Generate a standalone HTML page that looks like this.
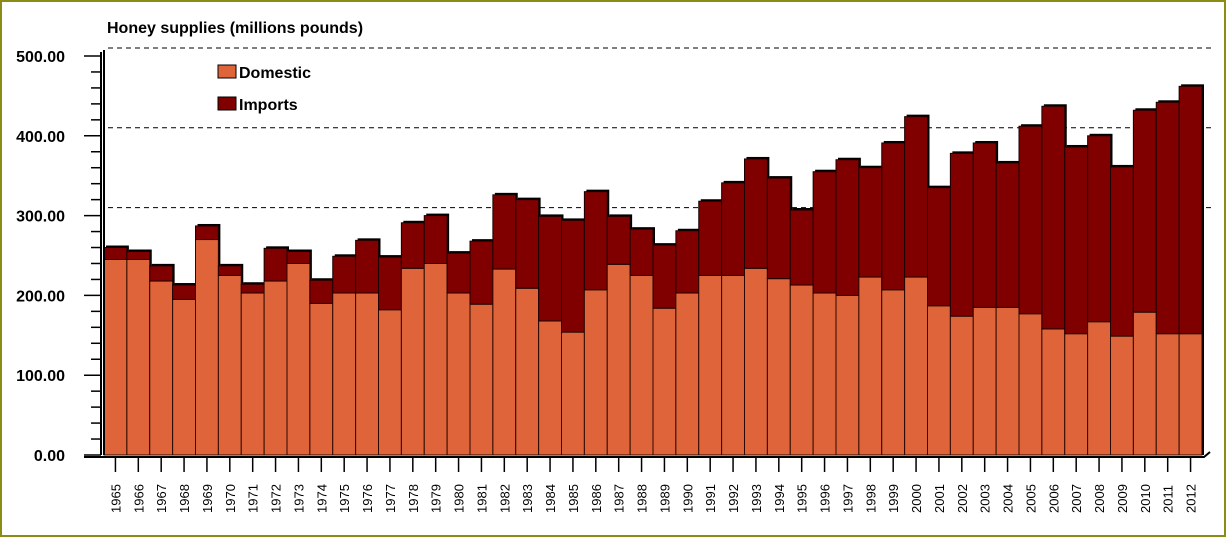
<!DOCTYPE html>
<html><head><meta charset="utf-8"><style>
html,body{margin:0;padding:0;background:#fff}
svg{display:block;font-family:"Liberation Sans",sans-serif}
</style></head><body>
<svg id="chart" width="1226" height="537" viewBox="0 0 1226 537">
<rect x="1" y="1" width="1224" height="535" fill="#fff" stroke="#8c8c14" stroke-width="2"/>
<text x="107" y="33" font-size="16" font-weight="bold" fill="#000">Honey supplies (millions pounds)</text>
<g id="grid"></g>
<g id="bars"></g>
<g id="axes"></g>
<g>
<rect x="218" y="65" width="18" height="13" fill="#e0643a" stroke="#000"/>
<text x="239" y="78" font-size="16" font-weight="bold">Domestic</text>
<rect x="218" y="97" width="18" height="13" fill="#800000" stroke="#000"/>
<text x="239" y="110" font-size="16" font-weight="bold">Imports</text>
</g>
</svg>
<script>
const years=[1965,1966,1967,1968,1969,1970,1971,1972,1973,1974,1975,1976,1977,1978,1979,1980,1981,1982,1983,1984,1985,1986,1987,1988,1989,1990,1991,1992,1993,1994,1995,1996,1997,1998,1999,2000,2001,2002,2003,2004,2005,2006,2007,2008,2009,2010,2011,2012];
const domestic=[245,245,218,195,270,225,203,218,240,190,203,203,182,234,240,203,189,233,209,168,154,207,239,225,184,203,225,225,234,221,213,203,200,223,207,223,187,174,185,185,177,158,152,167,149,179,152,152];
const imports=[15,10,19,18,17,12,11,41,15,29,46,66,66,57,60,50,79,93,111,131,140,123,60,58,79,78,93,116,137,126,94,152,170,137,184,201,148,204,206,181,235,279,234,233,212,253,290,310];
const yTicks=[0,100,200,300,400,500];
const gridVals=[300,400,500];
const NS="http://www.w3.org/2000/svg";
const x0=104,x1=1202,yBase=455,pxPer=0.798;
const bw=(x1-x0)/years.length;
const yS=v=>yBase-v*pxPer;
const xS=i=>x0+i*bw;
function mk(tag,attrs,parent){const e=document.createElementNS(NS,tag);for(const k in attrs)e.setAttribute(k,attrs[k]);parent.appendChild(e);return e;}
const grid=document.getElementById('grid'),bars=document.getElementById('bars'),axes=document.getElementById('axes');
gridVals.forEach(v=>{
 const l=mk('line',{x1:108,x2:1212,y1:yS(v)-8,y2:yS(v)-8,stroke:'#000','stroke-dasharray':'5,4','stroke-width':1},grid);
 
 
});
years.forEach((yr,i)=>{
 const x=xS(i),d=domestic[i],m=imports[i];
 const sh=mk('rect',{x:x+2,y:yS(d+m)-2,width:bw,height:(d+m)*pxPer+2,fill:'#000'},bars);
 
 
 const r1=mk('rect',{x:x,y:yS(d),width:bw,height:d*pxPer,fill:'#e0643a',stroke:'#2a0a00','stroke-width':1},bars);
 
 
 const r2=mk('rect',{x:x,y:yS(d+m),width:bw,height:m*pxPer,fill:'#800000',stroke:'#1a0000','stroke-width':1},bars);
 
 
 const tk=mk('line',{x1:x+bw/2,x2:x+bw/2,y1:458,y2:472,stroke:'#000','stroke-width':1.5},axes);
 
 
 const cx=x+bw/2+5;
 const t=mk('text',{x:0,y:0,transform:`translate(${cx},${513}) rotate(-90)`,'font-size':13},axes);
 t.textContent=yr;
 
 
});
const ax=mk('path',{d:'M101 455 L101 52 M104 455 L104 50 M84 457 L1204 457 L1210 452',stroke:'#000',fill:'none','stroke-width':2},axes);


for(let v=0;v<=500;v+=20){
 const m=mk('line',{x1:v%100===0?84:91,x2:101,y1:yS(v),y2:yS(v),stroke:'#000','stroke-width':1.5},axes);
 
 
}
yTicks.forEach(v=>{
 const t=mk('text',{x:65,y:yS(v)+6,'text-anchor':'end','font-size':16,'font-weight':'bold'},axes);
 t.textContent=v.toFixed(2);
 
 
});
</script>
</body></html>
